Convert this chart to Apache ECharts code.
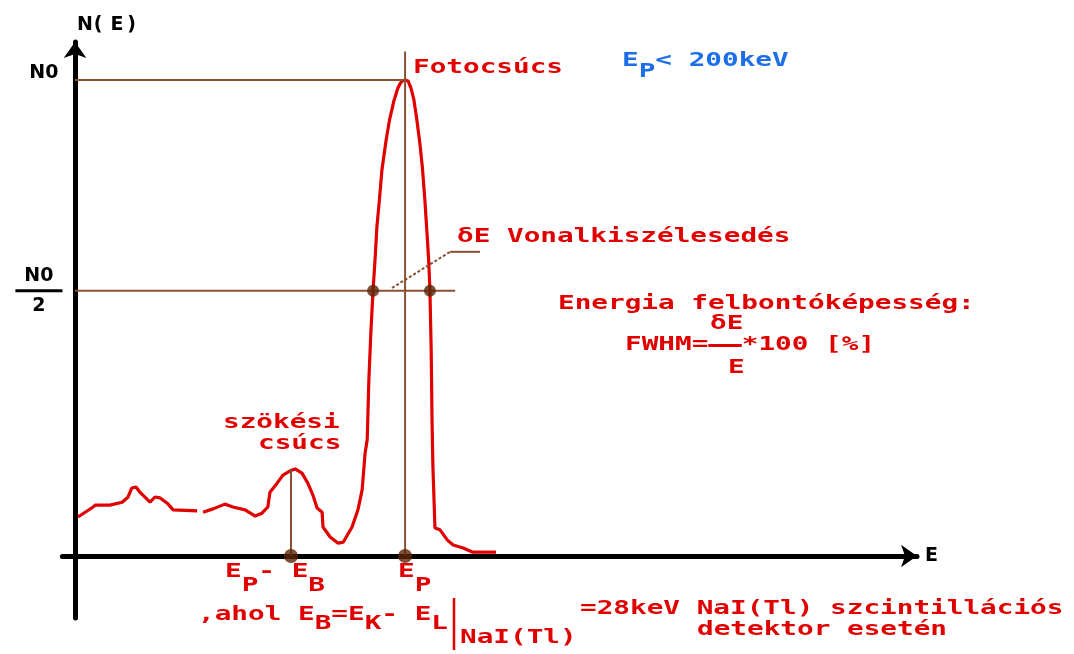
<!DOCTYPE html>
<html>
<head>
<meta charset="utf-8">
<script src="https://cdn.jsdelivr.net/npm/echarts@6/dist/echarts.min.js"></script>
<style>
  html, body { margin: 0; padding: 0; background: #ffffff; }
  #chart { width: 1074px; height: 654px; }
</style>
</head>
<body>
<div id="chart"></div>
<script>
// ---- data (arbitrary energy channel units / relative counts, N0 = 100) ----
const CURVE_X = [0.7, 4.3, 4.8, 8.3, 11.2, 12.6, 13.5, 14.5, 15.4, 17.8, 19.0, 20.2, 21.9, 23.3, 29.0, 29.7, 30.4, 32.8, 35.6, 37.5, 40.4, 42.8, 44.4, 45.8, 46.3, 48.0, 49.4, 51.1, 52.3, 53.9, 55.3, 56.5, 57.5, 58.7, 58.9, 60.6, 62.5, 63.7, 65.8, 67.2, 68.2, 68.9, 69.4, 69.8, 70.3, 70.8, 71.3, 71.7, 72.3, 72.9, 73.9, 74.7, 75.8, 76.7, 77.2, 77.7, 78.4, 79.1, 79.8, 80.5, 81.2, 81.9, 82.5, 83.1, 83.6, 84.0, 84.3, 84.6, 84.8, 85.0, 85.5, 86.7, 88.4, 89.8, 92.2, 94.5, 100.0];
const CURVE_Y = [8.2, 10.3, 10.7, 10.7, 11.3, 12.4, 14.3, 14.5, 13.4, 11.3, 12.4, 12.2, 11.1, 9.7, 9.5, null, 9.2, 9.9, 10.9, 10.3, 9.7, 8.4, 9.0, 10.3, 13.4, 15.3, 17.0, 17.9, 18.3, 17.4, 15.3, 12.8, 10.1, 9.2, 6.1, 4.0, 2.7, 2.9, 6.1, 9.7, 13.9, 21.6, 24.4, 37.0, 47.5, 55.9, 62.8, 69.1, 74.8, 81.1, 87.4, 91.6, 95.8, 98.3, 99.2, 99.8, 100, 99.8, 98.3, 95.8, 91.6, 86.8, 81.7, 74.8, 67.9, 62.2, 55.9, 43.3, 28.6, 19.1, 5.9, 5.5, 3.4, 2.3, 1.7, 0.8, 0.8];

const N0 = 100;            // photopeak height
const HALF = 55.7;         // "N0/2" level as drawn
const EP = 78.4;           // photopeak energy
const EP_MINUS_EB = 51.3;  // escape peak energy
const ESCAPE_TOP = 18.3;   // escape peak height
const EP_LINE_TOP = 106;
const HALF_LINE_END = 90.3;
const FWHM_LEFT = 70.8;
const FWHM_RIGHT = 84.3;
const LEADER_X = [75.3, 89.1, 96.2];
const LEADER_Y = [56.3, 63.9, 63.9];
const Y_LABEL_VALUES = [HALF, N0];

// ---- styles ----
const RED = '#e10000';
const BLUE = '#1d6fe8';
const BROWN = '#8a5030';
const DOT = '#5b2408';
const FONT = 'bold 27.7px "DejaVu Sans Mono", monospace';
const SY = 0.69;

function txt(x, cy, parts, color, d) {
  const dd = d || 0;
  return {
    type: 'text', x: x, y: cy - 14 * SY, scaleY: SY, silent: true, z: 10,
    style: {
      text: parts.map(p => '{' + p[0] + '|' + p[1] + '}').join(''),
      font: FONT, fill: color, align: 'left', verticalAlign: 'top',
      rich: {
        m: { font: FONT, fill: color, verticalAlign: 'top', lineHeight: 28 },
        s: { font: FONT, fill: color, verticalAlign: 'bottom', lineHeight: 28 + dd },
        bar: { width: 33.4, height: 4, backgroundColor: color }
      }
    }
  };
}
function sub(off) { return off / SY - 0.3; }

const curveData = CURVE_X.map((x, i) => [x, CURVE_Y[i] === null ? '-' : CURVE_Y[i]]);

function guide(data, extra) {
  return Object.assign({
    type: 'line', data: data, symbol: 'none', silent: true, z: 4,
    lineStyle: { color: BROWN, width: 2 }, animation: false
  }, extra || {});
}

const chart = echarts.init(document.getElementById('chart'));
chart.setOption({
  animation: false,
  backgroundColor: '#ffffff',
  grid: { left: 62.4, right: 157, top: 41.9, bottom: 36.1 },
  xAxis: {
    type: 'value', min: -3, max: 200,
    name: 'E', nameLocation: 'end', nameGap: 8,
    nameTextStyle: { color: '#000', fontFamily: 'DejaVu Sans', fontWeight: 'bold', fontSize: 19, verticalAlign: 'middle' },
    axisLine: { show: true, onZero: true, symbol: ['none', 'arrow'], symbolSize: [17, 16],
      lineStyle: { color: '#000', width: 5 } },
    axisTick: { show: false }, axisLabel: { show: false }, splitLine: { show: false }
  },
  yAxis: {
    type: 'value', min: -13, max: 108,
    name: '{c|N}{c|(}{c|E}{c|)}', nameLocation: 'end', nameGap: 7,
    nameTextStyle: { align: 'left', verticalAlign: 'bottom', padding: [0, 0, 0, 2],
      rich: { c: { width: 16.7, align: 'left', color: '#000', fontFamily: 'DejaVu Sans', fontWeight: 'bold', fontSize: 19 } } },
    axisLine: { show: true, onZero: true, symbol: ['none', 'arrow'], symbolSize: [17, 16],
      lineStyle: { color: '#000', width: 5 } },
    axisTick: { show: false }, splitLine: { show: false },
    axisLabel: {
      show: true, customValues: Y_LABEL_VALUES, margin: 0,
      formatter: function (v) { return v > 80 ? '{top|N0}' : '{n|N0}\n{bar|}\n{d|2}'; },
      rich: {
        top: { color: '#000', fontFamily: 'DejaVu Sans', fontWeight: 'bold', fontSize: 19, padding: [0, 4, 14, 0] },
        n: { width: 47, align: 'center', lineHeight: 24, color: '#000', fontFamily: 'DejaVu Sans', fontWeight: 'bold', fontSize: 19 },
        bar: { width: 47, height: 3, lineHeight: 6, backgroundColor: '#000' },
        d: { width: 47, align: 'center', lineHeight: 24, color: '#000', fontFamily: 'DejaVu Sans', fontWeight: 'bold', fontSize: 19 }
      }
    }
  },
  series: [
    { type: 'line', name: 'N(E)', data: curveData, symbol: 'none', smooth: false, connectNulls: false, z: 3,
      lineStyle: { color: RED, width: 3.2 } },
    guide([[0, N0], [EP, N0]]),
    guide([[EP, 0], [EP, EP_LINE_TOP]]),
    guide([[0, HALF], [HALF_LINE_END, HALF]]),
    guide([[EP_MINUS_EB, 0], [EP_MINUS_EB, ESCAPE_TOP]]),
    guide([[LEADER_X[0], LEADER_Y[0]], [LEADER_X[1], LEADER_Y[1]]], { lineStyle: { color: BROWN, width: 2, type: [3, 2] } }),
    guide([[LEADER_X[1], LEADER_Y[1]], [LEADER_X[2], LEADER_Y[2]]]),
    { type: 'scatter', data: [[FWHM_LEFT, HALF], [FWHM_RIGHT, HALF]], symbolSize: 12, z: 6,
      itemStyle: { color: DOT } },
    { type: 'scatter', data: [[EP_MINUS_EB, 0], [EP, 0]], symbolSize: 14, z: 6,
      itemStyle: { color: DOT } }
  ],
  graphic: [
    txt(413, 68, [['m', 'Fotocsúcs']], RED),
    txt(622, 61.2, [['m', 'E'], ['s', 'P'], ['m', '< 200keV']], BLUE, sub(11.3)),
    txt(457, 237.5, [['m', 'δE Vonalkiszélesedés']], RED),
    txt(558, 304.5, [['m', 'Energia felbontóképesség:']], RED),
    txt(710, 324, [['m', 'δE']], RED),
    txt(625, 345.5, [['m', 'FWHM='], ['bar', ''], ['m', '*100 [%]']], RED),
    txt(728, 368.5, [['m', 'E']], RED),
    txt(223, 423, [['m', 'szökési']], RED),
    txt(258, 444, [['m', 'csúcs']], RED),
    txt(225, 571.7, [['m', 'E'], ['s', 'P'], ['m', '- E'], ['s', 'B']], RED, sub(14.3)),
    txt(398, 571.7, [['m', 'E'], ['s', 'P']], RED, sub(14.3)),
    txt(198, 615, [['m', ',ahol E'], ['s', 'B'], ['m', '=E'], ['s', 'K'], ['m', '- E'], ['s', 'L']], RED, sub(9)),
    { type: 'line', silent: true, z: 10, shape: { x1: 454, y1: 598, x2: 454, y2: 650 },
      style: { stroke: RED, lineWidth: 2.5 } },
    txt(460, 638.5, [['m', 'NaI(Tl)']], RED),
    txt(580, 609, [['m', '=28keV NaI(Tl) szcintillációs']], RED),
    txt(697, 630, [['m', 'detektor esetén']], RED)
  ]
});
</script>
</body>
</html>
